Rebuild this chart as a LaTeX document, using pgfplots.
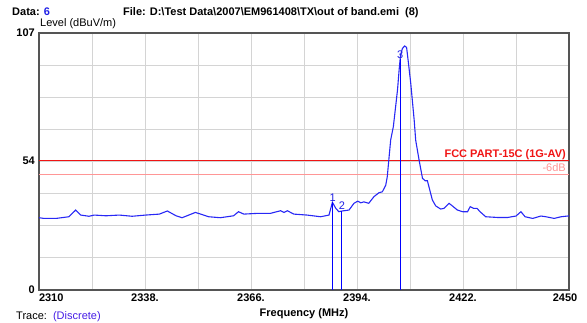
\documentclass[border=0pt]{standalone}
\usepackage{pgfplots}
\pgfplotsset{compat=1.18}
\usepackage{fontspec}
\setmainfont{Liberation Sans}

\definecolor{trace}{RGB}{40,40,245}
\definecolor{limitred}{RGB}{240,20,20}
\definecolor{marginpink}{RGB}{255,150,150}
\definecolor{gridgray}{RGB}{212,212,212}
\definecolor{framegray}{RGB}{85,85,85}
\definecolor{labelblue}{RGB}{30,30,230}
\definecolor{tracename}{RGB}{70,30,230}

% measured level over the scan (MHz, dBuV/m)
\pgfplotstableread{
f lvl
2310.0 30.1
2311.3 29.8
2314.5 29.8
2317.9 30.5
2319.7 33.3
2321.0 31.2
2323.2 30.7
2324.6 31.2
2327.7 30.9
2331.2 31.2
2334.6 30.7
2338.2 31.2
2341.8 31.6
2343.9 32.9
2346.2 30.9
2347.8 30.1
2349.1 30.9
2351.3 32.3
2353.5 31.2
2354.8 30.5
2357.9 30.1
2361.4 30.9
2362.7 32.6
2364.1 31.6
2367.6 31.9
2371.1 31.9
2373.8 33.0
2374.7 32.3
2375.6 33.0
2377.3 31.6
2380.8 31.2
2384.4 30.5
2386.6 31.2
2387.5 36.5
2388.4 34.0
2389.2 32.6
2390.1 32.9
2391.9 33.3
2393.2 36.1
2394.2 37.0
2395.0 36.3
2395.8 36.7
2397.1 36.1
2398.5 38.9
2399.8 40.5
2400.7 40.9
2401.6 43.7
2402.0 47.2
2402.4 54.1
2402.9 62.5
2403.6 68.0
2404.2 76.3
2404.7 83.3
2405.2 93.0
2405.5 97.8
2406.0 100.6
2406.6 101.6
2407.1 101.0
2407.5 95.7
2408.2 86.0
2409.1 70.8
2409.5 62.4
2410.4 54.1
2411.3 46.5
2412.0 45.5
2412.6 45.5
2413.0 43.0
2413.9 37.5
2414.8 35.0
2416.1 33.7
2417.0 34.0
2418.3 36.1
2419.2 35.0
2420.5 33.3
2421.9 32.6
2423.2 32.6
2423.9 34.7
2424.8 34.0
2425.7 34.0
2426.5 32.6
2428.0 30.5
2431.1 30.2
2433.8 30.2
2436.0 30.8
2437.3 32.6
2438.4 30.5
2440.4 29.8
2442.6 30.8
2443.9 30.5
2446.1 29.8
2447.9 30.5
2449.7 30.8
2450.0 30.8
}\tracedata

% marker readings
\pgfplotstableread{
f lvl lab
2387.6 36.5 1
2390.0 32.9 2
2405.4 96.0 3
}\markerdata

\begin{document}
\begin{tikzpicture}[x=1pt,y=1pt]
\useasboundingbox (0,0) rectangle (587,322);

\node[anchor=base west,inner sep=0pt,font=\bfseries\fontsize{11}{13}\selectfont]
  at (12,306) {Data: \textcolor{labelblue}{6}};
\node[anchor=base west,inner sep=0pt,font=\bfseries\fontsize{11}{13}\selectfont]
  at (123,306) {File: D:\textbackslash Test Data\textbackslash 2007\textbackslash EM961408\textbackslash TX\textbackslash out of band.emi\ \ (8)};
\node[anchor=base west,inner sep=0pt,font=\fontsize{11}{13}\selectfont]
  at (40,295) {Level (dBuV/m)};
\node[anchor=base west,inner sep=0pt,font=\fontsize{11}{13}\selectfont]
  at (16,2.5) {Trace:\ \ \textcolor{tracename}{(Discrete)}};

\begin{axis}[
  at={(39pt,32pt)}, anchor=south west,
  scale only axis, width=530pt, height=257pt,
  xmin=2310, xmax=2450, ymin=0, ymax=107,
  xtick={2310,2338,2366,2394,2422,2450},
  xticklabels={\makebox[0pt][l]{2310},2338.,2366.,2394.,2422.,\makebox[0pt][c]{\hspace*{-8pt}2450}},
  minor xtick={2324,2352,2380,2408,2436},
  ytick={0,54,107},
  yticklabels={0,54,107},
  minor ytick={13.375,26.75,40.125,53.5,66.875,80.25,93.625},
  grid=both,
  major grid style={gridgray,line width=1pt},
  minor grid style={gridgray,line width=1pt},
  major tick length=0pt, minor tick length=0pt,
  axis line style={framegray,line width=1.2pt},
  tick label style={font=\bfseries\fontsize{11}{13}\selectfont},
  xticklabel style={anchor=north,inner sep=0pt,yshift=-4pt},
  yticklabel style={anchor=east,inner sep=0pt,xshift=-4pt},
  xlabel={Frequency (MHz)},
  xlabel style={at={(axis description cs:0.5,0)},anchor=base,yshift=-26pt,
                inner sep=0pt,font=\bfseries\fontsize{11}{13}\selectfont},
  clip=false,
]
% limit line and its 6 dB margin
\addplot[limitred,line width=1.5pt] coordinates {(2310,54) (2450,54)};
\addplot[marginpink,line width=0.8pt] coordinates {(2310,48) (2450,48)};
\node[anchor=base east,inner sep=0pt,text=limitred,font=\bfseries\fontsize{11}{13}\selectfont]
  at (axis cs:2449.2,54) [yshift=3pt] {FCC PART-15C (1G-AV)};
\node[anchor=base east,inner sep=0pt,text=marginpink,font=\fontsize{11}{13}\selectfont]
  at (axis cs:2449.2,48) [yshift=3.3pt] {-6dB};

% spectrum trace
\addplot[trace,line width=1.1pt] table[x=f,y=lvl] {\tracedata};

% markers
\addplot[ycomb,color=blue,line width=1pt,
  nodes near coords, point meta=explicit symbolic,
  nodes near coords style={anchor=south,inner sep=0.6pt,text=labelblue,
                           font=\fontsize{11}{13}\selectfont}]
  table[x=f,y=lvl,meta=lab] {\markerdata};
\end{axis}
\end{tikzpicture}
\end{document}
